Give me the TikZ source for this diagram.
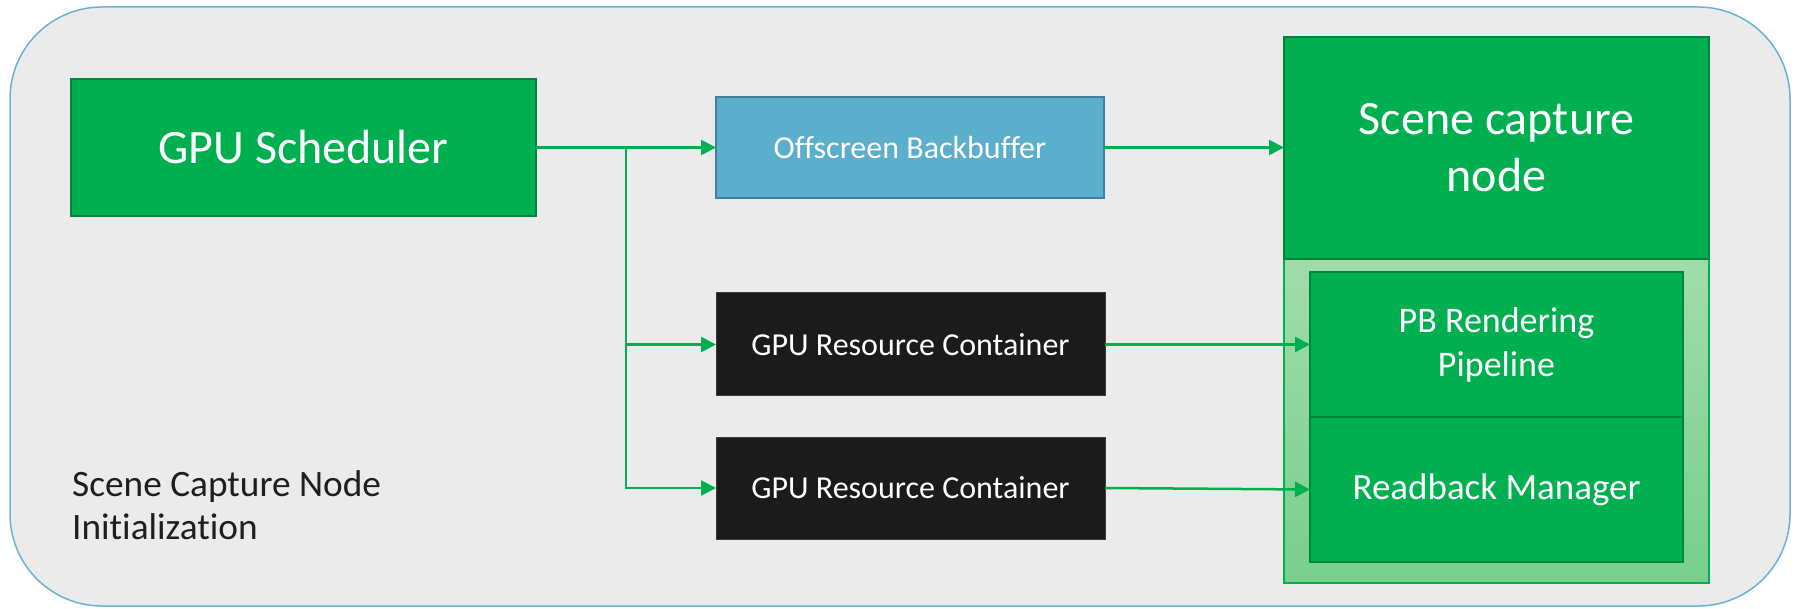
\documentclass[tikz,border=0pt]{standalone}
\usepackage{fontspec}
\setmainfont{Carlito}[Ligatures={NoCommon}]
\usetikzlibrary{arrows.meta}

\definecolor{panelfill}{HTML}{EBEBEB}
\definecolor{panelline}{HTML}{6AB2D2}
\definecolor{nodegreen}{HTML}{00B050}
\definecolor{greenline}{HTML}{00853D}
\definecolor{bufferfill}{HTML}{5BAECC}
\definecolor{bufferline}{HTML}{41819C}
\definecolor{darkfill}{HTML}{1B1B1B}
\definecolor{darkline}{HTML}{3C3C3C}
\definecolor{groupTop}{HTML}{A0DCAB}
\definecolor{groupBottom}{HTML}{78CF8C}
\definecolor{labeltext}{HTML}{1E1E1E}

\tikzset{
  box/.style={rectangle, inner sep=0pt, outer sep=0pt, align=center, text=white},
  greenbox/.style={box, fill=nodegreen, draw=greenline, line width=2pt},
  bufferbox/.style={box, fill=bufferfill, draw=bufferline, line width=2pt},
  darkbox/.style={box, fill=darkfill, draw=darkline, line width=1pt},
  conn/.style={draw=nodegreen, line width=2.5pt,
    -{Triangle[length=15pt,width=15pt]}},
  trunkline/.style={draw=nodegreen, line width=2.5pt},
}

\begin{document}
\begin{tikzpicture}[x=1pt, y=-1pt]
\useasboundingbox (0,0) rectangle (1799,609);

% outer panel
\draw[fill=panelfill, draw=panelline, line width=1.5pt, rounded corners=92pt]
  (10,7) rectangle (1790,606);

% group behind the pipeline stages
\shade[top color=groupTop, bottom color=groupBottom] (1284,259) rectangle (1709,583);
\draw[draw=nodegreen, line width=1.5pt] (1284,259) rectangle (1709,583);

% nodes
\node[greenbox, minimum width=465pt, minimum height=137pt,
      font=\fontsize{48}{54}\selectfont] (sched) at (303.5,147.5) {GPU Scheduler};

\node[bufferbox, minimum width=388pt, minimum height=101pt,
      font=\fontsize{32}{38}\selectfont] (off) at (910,147.5) {Offscreen Backbuffer};

\node[darkbox, minimum width=389pt, minimum height=103pt,
      font=\fontsize{32}{38}\selectfont] (grcA) at (910.5,344.5) {GPU Resource Container};

\node[darkbox, minimum width=389pt, minimum height=102pt,
      font=\fontsize{32}{38}\selectfont] (grcB) at (910.5,488) {GPU Resource Container};

\node[greenbox, minimum width=425pt, minimum height=222pt,
      font=\fontsize{48}{57}\selectfont] (scn) at (1496.5,148) {Scene capture\\node};

\node[greenbox, minimum width=373pt, minimum height=145pt,
      font=\fontsize{36}{44}\selectfont] (pbr) at (1496.5,344.5) {PB Rendering\\Pipeline};

\node[greenbox, minimum width=373pt, minimum height=145pt,
      font=\fontsize{37}{44}\selectfont] (rbm) at (1496.5,489.5) {Readback Manager};

% caption
\node[anchor=base west, inner sep=0pt, text=labeltext,
      font=\fontsize{37.3}{43}\selectfont] (caption) at (72,496)
  {\begin{tabular}[t]{@{}l@{}}Scene Capture Node\\Initialization\end{tabular}};

% connectors
\coordinate (split) at (626,147.5);
\draw[trunkline] (sched.east) -- (split);
\draw[conn] (split) -- (off.west);
\draw[conn] (split) |- (grcA.west);
\draw[conn] (split) |- (grcB.west);
\draw[conn] (off.east) -- (off.east -| scn.west);
\draw[conn] (grcA.east) -- (grcA.east -| pbr.west);
\draw[conn] (grcB.east) -- (rbm.west);
\end{tikzpicture}
\end{document}
